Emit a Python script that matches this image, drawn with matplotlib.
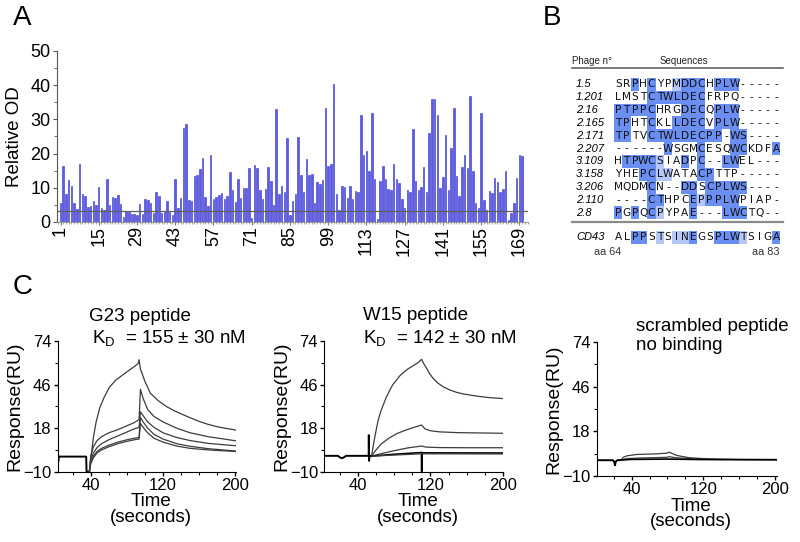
import numpy as np
import matplotlib
matplotlib.use('Agg')
import matplotlib.pyplot as plt
from matplotlib.patches import Rectangle
from matplotlib.ticker import MultipleLocator, FixedLocator

plt.rcParams['font.family'] = ['Liberation Sans', 'DejaVu Sans']
plt.rcParams['mathtext.fontset'] = 'custom'
plt.rcParams['mathtext.rm'] = 'Liberation Sans'
plt.rcParams['mathtext.it'] = 'Liberation Sans:italic'

# ---- panel A: relative OD per phage clone ----
od_values = [5.5, 16.5, 8.3, 12.2, 10.6, 5.5, 3.9, 16.9, 8.3, 7.5,
             4.4, 4.7, 6.0, 4.9, 10.3, 4.0, 3.6, 12.5, 4.9, 7.2,
             7.1, 7.8, 5.2, 1.6, 3.1, 3.0, 2.3, 2.3, 2.1, 5.2,
             2.2, 6.6, 6.3, 5.6, 2.7, 8.9, 7.5, 2.7, 3.3, 6.0,
             2.9, 2.0, 12.5, 4.2, 6.9, 27.5, 28.6, 6.5, 6.0, 13.4,
             13.8, 15.5, 18.8, 7.2, 4.7, 19.7, 6.6, 7.3, 7.9, 8.6,
             6.7, 7.6, 14.6, 9.5, 5.9, 12.5, 6.9, 9.8, 9.8, 15.9,
             1.3, 16.7, 15.8, 9.4, 6.7, 9.6, 16.1,
             12.1, 5.0, 33.1, 8.1, 10.4, 8.8, 24.6, 2.0, 6.0, 8.3,
             24.8, 13.8, 8.7, 18.3, 13.7, 14.1, 5.7, 11.6, 11.0, 12.4,
             33.2, 16.5, 16.9, 40.3, 8.3, 3.4, 10.6, 10.2, 6.9, 10.5,
             6.6, 9.1, 8.7, 31.3, 19.7, 20.7, 15.0, 31.8, 12.7, 0.8,
             11.9, 16.4, 12.7, 9.7, 9.5, 16.9, 12.7, 11.5, 6.7, 4.2,
             9.4, 8.8, 27.1, 12.0, 9.3, 10.1, 16.2, 8.7, 25.9, 36.1,
             36.1, 31.3, 9.8, 13.3, 25.3, 9.4, 21.5, 33.3, 13.4, 7.5,
             16.2, 19.6, 15.8, 36.9, 14.8, 5.6, 4.0, 32.0, 6.3, 3.6,
             9.0, 8.5, 13.0, 11.7, 8.9, 9.7, 15.0, 0.5, 2.7, 5.7,
             12.8, 19.5, 19.2]
od_cutoff = 3.1
a_ticks = [1, 15, 29, 43, 57, 71, 85, 99, 113, 127, 141, 155, 169]

# ---- panel B: sequence alignment ----
phage_ids = ['1.5', '1.201', '2.16', '2.165', '2.171', '2.207',
             '3.109', '3.158', '3.206', '2.110', '2.8']
phage_seqs = ['SRPHCYPMDDCHPLW-----',
              'LMSTCTWLDECFRPQ-----',
              'PTPPCHRGDECQPLW-----',
              'TPHTCKLLDECVPLW-----',
              'TPTVCTWLDECPP-WS----',
              '------WSGMCESQWCKDFA',
              'HTPWCSIADPC--LWEL---',
              'YHEPCLWATACPTTP-----',
              'MQDMCN--DDSCPLWS----',
              '----CTHPCEPPPLWPIAP-',
              'PGPQCPYPAE---LWCTQ--']
# '#' = identical to consensus, '+' = similar
phage_marks = ['..#.#..+###.###.....',
               '....#######.........',
               '#####...###.###.....',
               '##..#..####.###.....',
               '##..#########.##....',
               '......#...#...##...#',
               '.####+..#.#..##.....',
               '...##++...##........',
               '....#...##.#####....',
               '....##...#+####.....',
               '#.#.#+...#...###....']
cd43_seq = 'ALPPSTSINEGSPLWTSIGA'
cd43_marks = '..##.+.++#..###+...#'

# ---- panel C: SPR sensorgrams (time s, response RU) ----
g23_base_t = [3.5, 3.8, 4.1, 4.5, 35, 35.4, 38.5]
g23_base_v = [0, 4, -3.5, -0.3, -0.3, -10, -10]
g23_t1 = [38.5, 40, 43, 46, 50, 55, 61, 68, 75, 82, 88, 92.5, 93.5, 95, 100,
          106, 115, 124, 133, 143, 152, 161, 170, 180, 190, 200]
g23_v1 = [-10, -2, 12, 22, 31, 38, 44.5, 49, 52, 55, 57.5, 59.5, 62, 56, 48,
          40.4, 35.5, 31.8, 29, 26.4, 24.2, 22.1, 20.4, 18.9, 17.8, 16.8]
g23_t = [38.5, 40, 43, 47, 52, 60, 70, 80, 88, 93.5, 95, 98, 103, 110, 120,
         135, 150, 170, 200]
g23_v2 = [-10, 0, 6, 10, 12.5, 15, 17, 19.5, 21.5, 23.5, 43, 37, 30, 25.5, 22,
          18, 15, 12.5, 9.9]
g23_v3 = [-10, -3, 2, 5.5, 8, 10.5, 13, 15.5, 17.5, 18.5, 28.5, 26, 22, 18.5, 15,
          12, 10, 8.2, 6.7]
g23_v4 = [-10, -4, 0, 3, 5, 7, 9, 10.5, 11.5, 12.0, 25, 22, 18, 14, 11,
          8, 6.3, 4.8, 3.3]
g23_v5 = [-10, -5, -1, 2, 4, 6, 8, 9.5, 10.5, 11.0, 21, 18.5, 15, 11.5, 9,
          6.5, 5, 4, 3.0]

w15_base_t = [2.9, 18, 20, 22.5, 25, 27, 51.8, 52, 52.3, 52.6, 53, 55]
w15_base_v = [0.2, 0.2, -0.8, -1.3, -0.6, 0.2, 0.2, 13.5, -3, 0.5, 0.2, 0]
w15_t1 = [55, 57, 58.7, 60.5, 62.4, 65, 67.9, 71, 75.2, 78.5, 82.6, 86, 89.9,
          95, 100.9, 106, 110.2, 112.5, 115.7, 119, 122.9, 128, 134, 141,
          148.7, 156, 163.3, 172, 181.7, 190, 200]
w15_v1 = [0, 7, 12.5, 18, 23.2, 28.5, 32.9, 37.5, 42.5, 46, 48.9, 51.5, 53.6,
          56, 58.1, 60, 62.2, 59.5, 56.5, 53, 50, 47, 44.6, 42.6,
          41, 40, 39.3, 38.5, 37.8, 37.4, 37]
w15_t2 = [55, 60, 66, 74, 83, 93, 102, 110.2, 114, 120, 130, 150, 175, 200]
w15_v2 = [0, 4, 8, 11.5, 14.5, 16.8, 18.5, 20, 17.5, 16.3, 15.6, 15.1, 14.9, 14.7]
w15_t3 = [55, 65, 80, 95, 110.2, 115, 130, 160, 200]
w15_v3 = [0, 1.5, 3.5, 5.3, 6.5, 5.8, 5.5, 5.4, 5.4]
w15_t4 = [55, 80, 110, 110.3, 110.6, 111, 200]
w15_v4 = [0, 1.2, 2.3, -10, 2.3, 2.1, 2.0]
w15_t5 = [55, 110, 200]
w15_v5 = [0, 1.5, 1.4]

scr_base_t = [1, 19, 20.5, 21.4, 22.3, 24, 28]
scr_base_v = [-0.1, -0.1, -1, -3.3, -1, -0.1, 0]
scr_t1 = [28, 31, 34.4, 45.6, 67.9, 79, 82, 85, 90.2, 105, 131, 160, 202]
scr_v1 = [0, 1.8, 2.6, 3.5, 3.9, 4.3, 4.9, 4.2, 2.9, 1.4, 0.6, 0.3, 0.2]
scr_t2 = [28, 34, 50, 79, 82, 90, 110, 140, 202]
scr_v2 = [0, 0.9, 1.3, 1.7, 2.1, 1.4, 0.8, 0.4, 0.3]
scr_t3 = [28, 40, 80, 120, 202]
scr_v3 = [0, 0.4, 0.6, 0.3, 0.2]

W, H = 800.0, 542.0
fig = plt.figure(figsize=(8, 5.42), dpi=100)

def px_text(x, y, s, **kw):
    fig.text(x / W, 1 - y / H, s, **kw)

# ================= A =================
ax = fig.add_axes([57.5 / W, 1 - 222 / H, 470 / W, 171 / H])
bar_x = np.arange(1, len(od_values) + 1)
ax.bar(bar_x, od_values, width=0.55, color='#5c5ce8', edgecolor='#3434c8', linewidth=0.4)
ax.axhline(od_cutoff, color='#606060', lw=0.9)
ax.set_xlim(-0.1, 172)
ax.set_ylim(0, 50)
ax.set_xticks(a_ticks)
ax.set_xticklabels([str(t) for t in a_ticks], rotation=90, fontsize=13)
ax.xaxis.set_minor_locator(MultipleLocator(1))
ax.yaxis.set_major_locator(MultipleLocator(10))
ax.yaxis.set_minor_locator(MultipleLocator(5))
ax.tick_params(axis='x', which='major', length=2, pad=1, color='#777777')
ax.tick_params(axis='x', which='minor', length=1.5, color='#999999')
ax.tick_params(axis='y', which='major', length=3, pad=2, labelsize=13, color='#555555')
ax.tick_params(axis='y', which='minor', length=2, color='#555555')
for s in ['top', 'right']:
    ax.spines[s].set_visible(False)
ax.spines['left'].set_color('#555555')
ax.spines['bottom'].set_color('#999999')
ax.set_ylabel('Relative OD', fontsize=13.5)
ax.yaxis.set_label_coords(-34 / 470, 0.5)

px_text(13, 18, 'A', fontsize=20, va='center', ha='left')
px_text(543, 18, 'B', fontsize=20, va='center', ha='left')
px_text(13, 287, 'C', fontsize=20, va='center', ha='left')

# ================= B =================
bx = fig.add_axes([565 / W, 1 - 262 / H, 230 / W, 212 / H])
x0, dx = 618.3, 8.3
y0, dy = 84.3, 12.85
bx.set_xlim((565 - x0) / dx, (795 - x0) / dx)
bx.set_ylim((262 - y0) / dy, (50 - y0) / dy)
bx.axis('off')
dark_blue = '#6a8ef2'
light_blue = '#b4c7f7'

def seq_row(r, seq, marks):
    for j, (ch, m) in enumerate(zip(seq, marks)):
        if m in '#+':
            bx.add_patch(Rectangle((j - 0.5, r - 0.5), 1, 1, lw=0,
                                   facecolor=dark_blue if m == '#' else light_blue))
        bx.text(j, r, ch, ha='center', va='center', fontsize=7.6,
                family='DejaVu Sans', color='#111111')

for r, (pid, seq, marks) in enumerate(zip(phage_ids, phage_seqs, phage_marks)):
    seq_row(r, seq, marks)
    bx.text(-5.1, r, pid, ha='left', va='center', fontsize=8, style='italic')
cd_row = (237.3 - y0) / dy
seq_row(cd_row, cd43_seq, cd43_marks)
bx.text(-5.1, cd_row, 'CD43', ha='left', va='center', fontsize=8, style='italic')

hdr = (61 - y0) / dy
bx.text(-5.61, hdr, 'Phage n°', ha='left', va='center', fontsize=7, color='#222222')
bx.text(7.94, hdr, 'Sequences', ha='center', va='center', fontsize=7, color='#222222')
bx.plot([-5.61, 19.8], [(67.7 - y0) / dy] * 2, color='#555555', lw=1.1)
bx.plot([-5.61, 19.8], [(222.3 - y0) / dy] * 2, color='#8a8a8a', lw=1.6)
aa_y = (251.7 - y0) / dy
bx.text(-1.24, aa_y, 'aa 64', ha='center', va='center', fontsize=7.8, color='#333333')
bx.text(17.8, aa_y, 'aa 83', ha='center', va='center', fontsize=7.8, color='#333333')

# ================= C =================
def spr_axes(left, right, bottom, top, xlim):
    a = fig.add_axes([left / W, 1 - bottom / H, (right - left) / W, (bottom - top) / H])
    a.set_xlim(*xlim)
    a.set_ylim(-10, 74)
    a.set_yticks([-10, 18, 46, 74])
    a.yaxis.set_minor_locator(FixedLocator([4, 32, 60]))
    a.set_xticks([40, 120, 200])
    a.xaxis.set_minor_locator(MultipleLocator(20))
    a.tick_params(which='major', length=3, pad=1.5, labelsize=12, width=1)
    a.tick_params(which='minor', length=2, width=0.8)
    for s in ['top', 'right']:
        a.spines[s].set_visible(False)
    a.set_ylabel('Response(RU)', fontsize=14)
    a.yaxis.set_label_coords(-34 / (right - left), 0.5)
    a.set_xlabel('Time\n(seconds)', fontsize=13.5, linespacing=0.9)
    a.xaxis.label.set_va('center')
    a.xaxis.set_label_coords(0.525, -38 / (bottom - top))
    return a

curve_kw = dict(color='#3c3c3c', lw=0.9)
base_kw = dict(color='black', lw=1.4)

c1 = spr_axes(57.7, 236, 471.7, 341, (3.5, 200.7))
c1.plot(g23_base_t, g23_base_v, **base_kw)
c1.plot(g23_t1, g23_v1, **curve_kw)
for v in [g23_v2, g23_v3, g23_v4, g23_v5]:
    c1.plot(g23_t, v, **curve_kw)

c2 = spr_axes(324.3, 503.3, 471.7, 341, (2.9, 200.3))
c2.plot(w15_base_t, w15_base_v, **base_kw)
c2.plot(w15_t1, w15_v1, **curve_kw)
c2.plot(w15_t2, w15_v2, **curve_kw)
c2.plot(w15_t3, w15_v3, **curve_kw)
c2.plot(w15_t4, w15_v4, color='black', lw=1.2)
c2.plot(w15_t5, w15_v5, **curve_kw)

c3 = spr_axes(596.7, 776.7, 476, 342, (1, 202))
c3.plot(scr_base_t, scr_base_v, **base_kw)
c3.plot(scr_t1, scr_v1, **curve_kw)
c3.plot(scr_t2, scr_v2, **curve_kw)
c3.plot(scr_t3, scr_v3, color='black', lw=1.2)

px_text(140, 316.7, 'G23 peptide', fontsize=13.5, ha='center', va='center')
px_text(92, 338, r'K$_{\rm D}$  = 155 ± 30 nM', fontsize=13.5, ha='left', va='center')
px_text(362.7, 315, 'W15 peptide', fontsize=13.5, ha='left', va='center')
px_text(362.7, 338, r'K$_{\rm D}$  = 142 ± 30 nM', fontsize=13.5, ha='left', va='center')
px_text(636, 326.7, 'scrambled peptide', fontsize=13.5, ha='left', va='center')
px_text(636, 346, 'no binding', fontsize=13.5, ha='left', va='center')

fig.savefig('out.png', dpi=100, facecolor='white')
